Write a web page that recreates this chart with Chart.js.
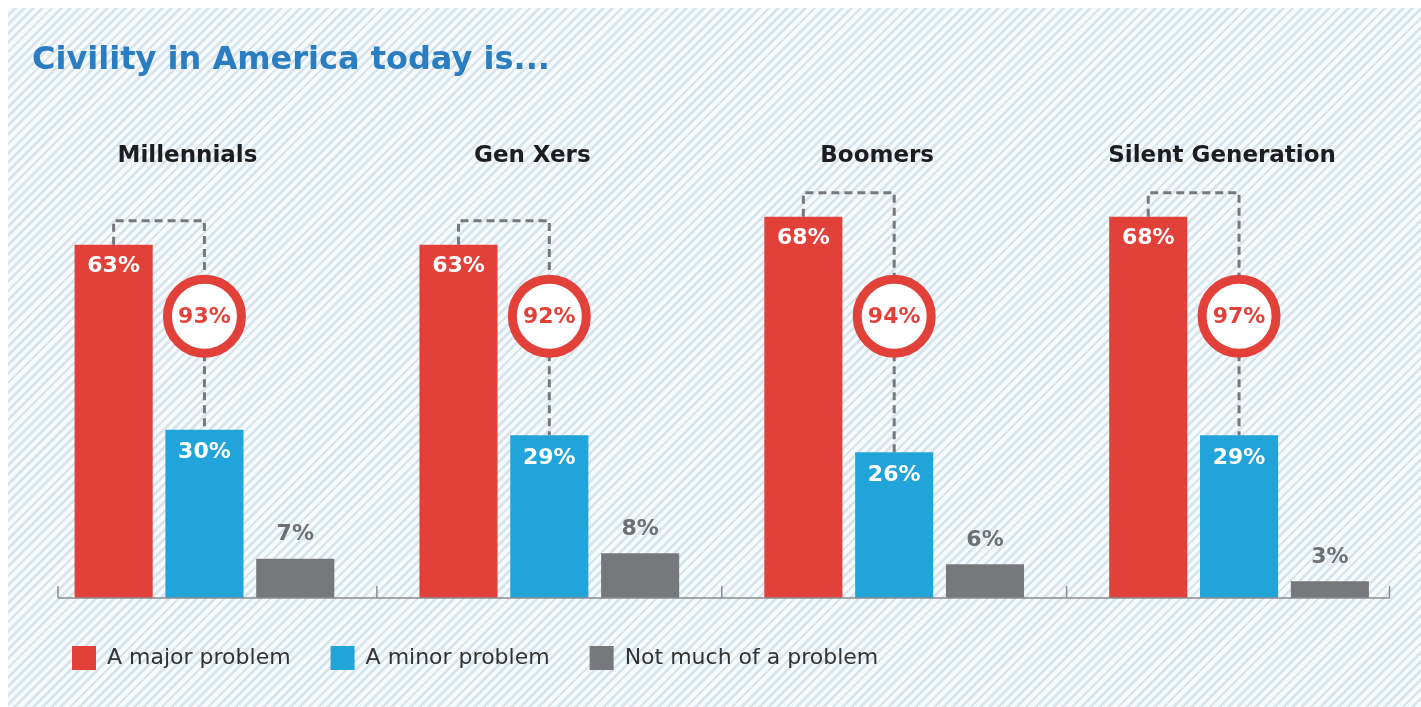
<!DOCTYPE html>
<html>
<head>
<meta charset="utf-8">
<title>Civility in America today is...</title>
<script src="https://cdn.jsdelivr.net/npm/chart.js@4/dist/chart.umd.min.js"></script>
<style>
    html, body {
        margin: 0;
        padding: 0;
        background: #ffffff;
    }
    #bg {
        position: absolute;
        left: 8px;
        top: 8px;
        width: 1413px;
        height: 699px;
        background: repeating-linear-gradient(135deg, #f8fbfd 0px, #f8fbfd 3.8px, #d9e5ee 3.8px, #d9e5ee 6.5px);
    }
    #wrap {
        position: absolute;
        left: 0;
        top: 0;
        width: 1421px;
        height: 707px;
    }
</style>
</head>
<body>
<div id="bg"></div>
<div id="wrap"><canvas id="civilityChart"></canvas></div>

<script>
const generations = ['Millennials', 'Gen Xers', 'Boomers', 'Silent Generation'];
const majorProblem = [63, 63, 68, 68];
const minorProblem = [30, 29, 26, 29];
const notMuchProblem = [7, 8, 6, 3];
const totalProblem = [93, 92, 94, 97];

const RED = '#e2413a';
const BLUE = '#20a4da';
const GRAY = '#77787b';
const FONT = '"DejaVu Sans", sans-serif';

// dashed brackets, total circles, value labels and the baseline
const decorPlugin = {
    id: 'decor',
    afterDatasetsDraw(chart) {
        const ctx = chart.ctx;
        const area = chart.chartArea;
        const xScale = chart.scales.x;
        const redBars = chart.getDatasetMeta(0).data;
        const blueBars = chart.getDatasetMeta(1).data;
        const grayBars = chart.getDatasetMeta(2).data;

        ctx.save();

        // baseline with little ticks between the groups
        const lineLeft = area.left + 26;
        const lineRight = area.right - 22;
        const baseY = area.bottom;
        ctx.strokeStyle = '#8a8c8f';
        ctx.lineWidth = 1.5;
        ctx.beginPath();
        ctx.moveTo(lineLeft, baseY);
        ctx.lineTo(lineRight, baseY);
        let ticks = [lineLeft, lineRight];
        for (let i = 0; i < generations.length - 1; i++) {
            ticks.push((xScale.getPixelForValue(i) + xScale.getPixelForValue(i + 1)) / 2);
        }
        ticks.forEach(tx => {
            ctx.moveTo(tx, baseY);
            ctx.lineTo(tx, baseY - 12);
        });
        ctx.stroke();

        const circleY = area.top + (area.bottom - area.top) * 0.33;
        const r = 37;

        for (let i = 0; i < generations.length; i++) {
            const red = redBars[i];
            const blue = blueBars[i];
            const gray = grayBars[i];
            const topY = red.y - 24;

            // dashed connector
            ctx.strokeStyle = GRAY;
            ctx.lineWidth = 3;
            ctx.setLineDash([8, 5]);
            ctx.beginPath();
            ctx.moveTo(red.x, red.y);
            ctx.lineTo(red.x, topY);
            ctx.lineTo(blue.x, topY);
            ctx.lineTo(blue.x, circleY - r);
            ctx.moveTo(blue.x, circleY + r);
            ctx.lineTo(blue.x, blue.y);
            ctx.stroke();
            ctx.setLineDash([]);

            // total circle
            ctx.beginPath();
            ctx.arc(blue.x, circleY, r, 0, Math.PI * 2);
            ctx.fillStyle = '#ffffff';
            ctx.fill();
            ctx.lineWidth = 9;
            ctx.strokeStyle = RED;
            ctx.stroke();
            ctx.fillStyle = RED;
            ctx.font = 'bold 22px ' + FONT;
            ctx.textAlign = 'center';
            ctx.textBaseline = 'middle';
            ctx.fillText(totalProblem[i] + '%', blue.x, circleY + 1);

            // labels in the bars
            ctx.fillStyle = '#ffffff';
            ctx.fillText(majorProblem[i] + '%', red.x, red.y + 22);
            ctx.fillText(minorProblem[i] + '%', blue.x, blue.y + 23);
            ctx.fillStyle = '#6e6f72';
            ctx.fillText(notMuchProblem[i] + '%', gray.x, gray.y - 24);
        }
        ctx.restore();
    }
};

const ctx = document.getElementById('civilityChart').getContext('2d');
const civilityChart = new Chart(ctx, {
    type: 'bar',
    data: {
        labels: generations,
        datasets: [{
            label: 'A major problem',
            data: majorProblem,
            backgroundColor: RED
        }, {
            label: 'A minor problem',
            data: minorProblem,
            backgroundColor: BLUE
        }, {
            label: 'Not much of a problem',
            data: notMuchProblem,
            backgroundColor: GRAY
        }]
    },
    options: {
        responsive: true,
        maintainAspectRatio: false,
        animation: false,
        categoryPercentage: 0.79,
        barPercentage: 0.86,
        layout: {
            padding: { left: 32, right: 9.5, top: 18, bottom: 27 }
        },
        plugins: {
            title: {
                display: true,
                text: 'Civility in America today is...',
                align: 'start',
                color: '#2a7dc0',
                font: { family: FONT, size: 32, weight: 'bold' },
                padding: { top: 23, bottom: 10 }
            },
            legend: {
                display: true,
                position: 'bottom',
                align: 'start',
                labels: {
                    boxWidth: 24,
                    boxHeight: 24,
                    padding: 40,
                    color: '#333333',
                    font: { family: FONT, size: 22 }
                }
            },
            tooltip: { enabled: false }
        },
        scales: {
            x: {
                position: 'top',
                grid: { display: false },
                border: { display: false },
                ticks: {
                    color: '#1d1d1f',
                    font: { family: FONT, size: 23, weight: 'bold' },
                    labelOffset: -17,
                    padding: 0
                },
                afterFit(scale) {
                    scale.height = 88;
                }
            },
            // empty strip under the bars, keeps the legend a bit lower
            xBottom: {
                type: 'category',
                position: 'bottom',
                grid: { display: false },
                border: { display: false },
                ticks: { display: false },
                afterFit(scale) {
                    scale.height = 8;
                }
            },
            y: {
                display: false,
                min: 0,
                max: 75
            }
        }
    },
    plugins: [decorPlugin]
});
</script>
</body>
</html>
